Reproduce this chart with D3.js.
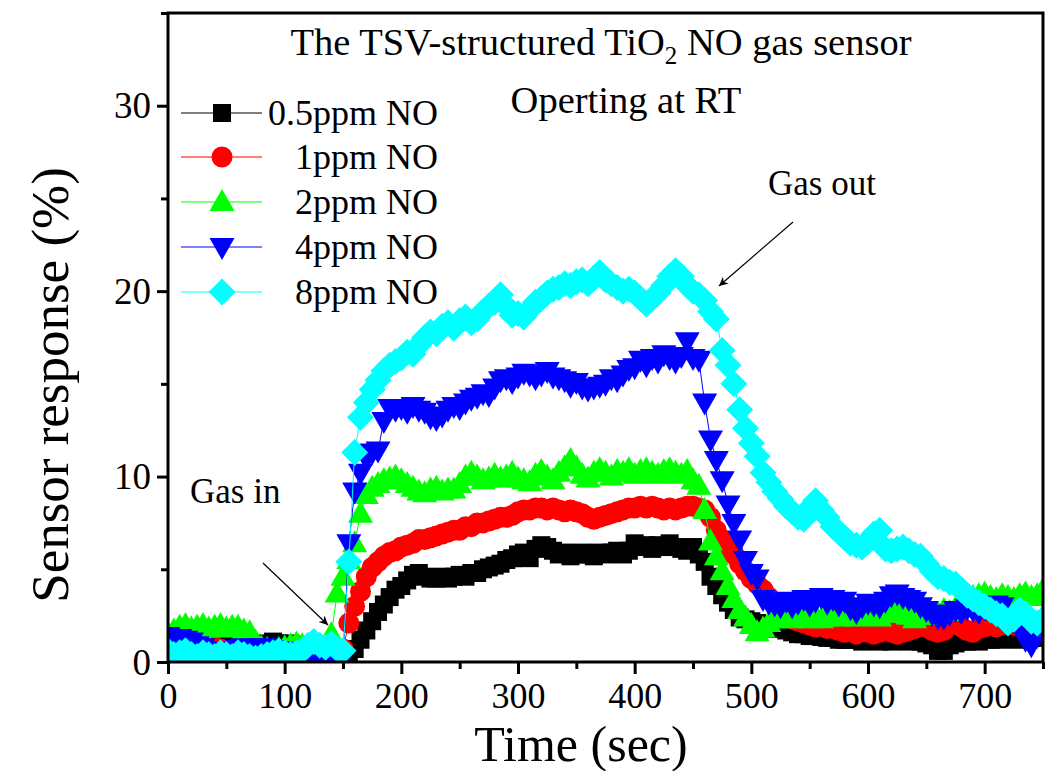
<!DOCTYPE html>
<html><head><meta charset="utf-8">
<script src="https://cdn.jsdelivr.net/npm/d3@7/dist/d3.min.js"></script>
<style>body{margin:0;background:#fff}svg{display:block}text{font-family:"Liberation Serif","Times New Roman",serif;fill:#000}</style>
</head><body><svg id="c" width="1052" height="771"></svg>
<script>
// sampling grid (sec)
const time = d3.range(0, 751, 5);
const seriesNames = ["0.5ppm NO", "1ppm NO", "2ppm NO", "4ppm NO", "8ppm NO"];
const seriesColors = ["#000000", "#ff0000", "#00ff00", "#0000ff", "#00ffff"];
const seriesSymbols = ["square", "circle", "triangle", "triangleDown", "diamond"];
const ppm05 = [
0.8,0.9,0.8,0.7,0.8,0.9,0.8,0.7,0.8,0.9,
0.8,0.9,1.0,0.9,0.8,0.7,0.8,1.0,1.1,1.0,
0.9,1.0,0.9,0.8,0.9,0.8,0.7,0.6,0.6,0.5,
0.3,0.4,0.7,1.2,1.7,2.2,2.7,3.1,3.5,3.9,
4.1,4.4,4.7,4.8,4.6,4.5,4.5,4.6,4.5,4.6,
4.7,4.6,4.8,4.8,5.0,5.1,5.2,5.3,5.5,5.6,
5.8,5.9,5.6,6.1,6.3,6.2,6.0,5.8,5.9,5.7,
5.8,5.9,5.8,5.7,5.9,5.8,5.9,6.0,5.8,6.0,
6.4,6.2,6.3,6.1,6.3,6.2,6.4,6.2,6.1,6.0,
6.2,5.8,5.4,4.6,4.1,3.6,3.2,2.8,2.4,2.3,
2.2,2.1,2.0,1.9,1.8,1.8,1.7,1.6,1.5,1.5,
1.4,1.4,1.35,1.3,1.3,1.2,1.2,1.2,1.2,1.1,
1.2,1.2,1.1,1.2,1.1,1.2,1.2,1.1,1.2,1.1,
1.0,0.9,0.6,0.6,0.9,1.0,1.1,1.1,1.2,1.1,
1.2,1.2,1.3,1.2,1.3,1.3,1.2,1.3,1.3,1.4,
1.3];
const ppm1 = [
0.6,0.5,0.6,0.7,0.6,0.5,0.6,0.7,0.8,0.7,
0.6,0.5,0.6,0.5,0.6,0.7,0.6,0.5,0.6,0.5,
0.6,0.7,0.6,0.5,0.6,0.5,0.4,0.5,0.6,0.5,
0.7,2.1,3.0,3.8,4.6,5.1,5.4,5.7,5.9,6.0,
6.2,6.3,6.4,6.6,6.6,6.7,6.8,6.9,7.0,7.1,
7.1,7.3,7.3,7.5,7.5,7.6,7.7,7.8,7.8,7.9,
8.1,8.2,8.2,8.3,8.3,8.2,8.3,8.2,8.1,8.2,
8.1,8.0,7.8,7.7,7.8,7.9,8.0,8.1,8.2,8.3,
8.3,8.4,8.3,8.4,8.3,8.2,8.3,8.2,8.3,8.4,
8.4,8.3,8.2,7.8,7.1,6.6,6.2,5.8,5.3,4.9,
4.5,4.2,3.9,3.5,3.1,2.8,2.5,2.3,2.2,2.1,
2.0,1.9,2.0,1.8,1.8,1.7,1.6,1.7,1.5,1.7,
1.6,1.5,1.6,1.7,1.6,1.5,1.6,1.7,1.8,2.0,
1.9,1.7,1.6,1.7,2.0,2.1,1.9,1.7,1.6,1.8,
1.9,2.0,1.9,2.0,2.1,2.0,2.1,2.0,2.2,2.1,
2.0];
const ppm2 = [
1.5,1.7,1.9,2.0,1.8,1.9,2.0,1.8,1.9,2.0,
1.8,1.9,1.9,1.7,1.6,1.1,0.8,0.7,0.6,0.7,
0.8,0.9,1.0,0.9,0.8,0.7,0.8,0.9,1.5,3.7,
4.6,5.5,6.4,8.0,9.0,9.4,9.6,9.8,9.9,10.0,
9.8,9.6,9.4,9.2,9.1,9.3,9.4,9.2,9.3,9.3,
9.6,10.0,10.2,10.0,9.8,9.9,10.1,9.9,10.0,10.2,
9.9,9.8,9.7,10.1,10.3,10.0,9.8,10.2,10.5,10.9,
10.5,10.1,9.9,10.2,10.4,10.2,10.0,10.3,10.2,10.4,
10.1,10.3,10.4,10.2,10.1,10.3,10.4,10.2,10.1,10.3,
9.8,9.5,8.2,6.5,5.7,4.9,4.1,3.4,2.8,2.4,
2.0,1.6,1.8,2.1,2.3,2.5,2.4,2.3,2.5,2.4,
2.3,2.5,2.3,2.4,2.6,2.4,2.5,2.6,2.4,2.5,
2.6,2.5,2.4,2.7,2.8,2.6,2.8,2.5,2.3,2.5,
2.7,2.5,2.6,2.8,2.7,2.9,3.1,3.3,3.5,3.6,
3.7,3.5,3.4,3.6,3.5,3.4,3.6,3.7,3.5,3.6,
3.9];
const ppm4 = [
1.4,1.3,1.3,1.2,1.1,0.9,0.8,0.6,0.5,0.6,
0.5,0.6,0.7,0.8,0.7,0.8,0.7,0.8,0.7,0.6,
0.5,0.6,0.5,0.4,0.3,0.2,0.2,0.1,0.2,0.1,
0.2,6.4,9.2,10.2,11.0,11.3,11.4,13.0,13.7,13.6,
13.7,13.5,13.8,13.6,13.5,13.2,13.1,13.3,13.6,13.8,
13.7,14.0,14.2,14.3,14.5,14.4,14.8,15.2,15.3,15.1,
15.4,15.6,15.5,15.3,15.5,15.7,15.4,15.3,15.2,14.9,
15.1,14.8,14.7,14.8,14.9,15.0,15.3,15.2,15.5,15.8,
15.9,16.3,16.0,16.4,16.2,16.6,16.4,16.2,16.5,17.3,
16.4,16.3,14.0,12.0,10.9,9.8,8.5,7.5,6.6,5.5,
4.8,4.5,3.4,3.2,3.1,3.0,3.3,3.0,3.2,3.4,
3.1,3.3,3.5,3.2,3.4,3.1,3.3,2.9,2.7,3.0,
3.2,3.1,3.0,3.3,3.6,3.7,3.5,3.4,3.3,3.0,
2.8,2.6,2.4,2.4,2.6,2.8,2.7,2.9,2.8,2.7,
2.9,3.0,3.1,3.0,2.5,2.2,1.8,1.2,0.9,1.4,
1.8];
const ppm8 = [
0.6,0.4,0.5,0.6,0.4,0.3,0.5,0.4,0.3,0.5,
0.4,0.3,0.5,0.4,0.3,0.2,0.3,0.4,0.5,0.6,
0.5,0.4,0.5,0.6,0.9,1.1,0.9,0.8,1.0,0.7,
0.6,5.4,11.3,13.2,14.0,14.7,15.2,15.7,16.0,16.2,
16.4,16.7,16.6,17.1,17.5,17.8,17.7,18.1,18.3,18.0,
18.4,18.6,18.3,18.5,18.9,19.2,19.4,19.8,19.2,18.7,
18.8,18.6,19.0,19.4,19.6,19.9,20.1,20.2,20.4,20.3,
20.5,20.6,20.4,20.7,21.0,20.6,20.4,20.2,20.0,20.1,
19.9,19.6,19.3,19.6,19.9,20.3,20.8,21.1,20.8,20.3,
20.0,19.8,19.5,18.9,18.5,16.8,16.0,15.0,13.6,12.6,
11.8,11.1,10.2,9.7,9.2,8.8,8.4,8.1,7.8,7.7,
8.3,8.7,8.2,7.8,7.3,7.0,6.7,6.4,6.3,6.2,
6.5,6.9,7.1,6.1,6.0,6.1,6.2,6.0,5.8,5.7,
5.3,4.9,4.6,4.5,4.3,4.2,3.9,3.6,3.4,3.2,
3.0,2.8,2.6,2.5,2.1,2.3,2.8,2.6,2.2,2.1,
2.3];
const seriesValues = [ppm05, ppm1, ppm2, ppm4, ppm8];
const xMajorTicks = [0,100,200,300,400,500,600,700];
const xMinorTicks = [50,150,250,350,450,550,650,750];
const yMajorTicks = [0,10,20,30];
const yMinorTicks = [5,15,25,35];
const titleLine1 = "The TSV-structured TiO";
const titleSub = "2";
const titleLine1b = " NO gas sensor";
const titleLine2 = "Operting at RT";

const svg = d3.select("#c");
const L = 168, R = 1043, T = 13, B = 662;
const x = d3.scaleLinear().domain([0, 750]).range([L, R]);
const y = d3.scaleLinear().domain([0, 35]).range([B, T]);

function symPath(kind, cx, cy) {
  if (kind === "square") { const s = 9; return `M${cx-s},${cy-s}h${2*s}v${2*s}h${-2*s}Z`; }
  if (kind === "circle") { const r = 10.5; return `M${cx-r},${cy}a${r},${r} 0 1,0 ${2*r},0a${r},${r} 0 1,0 ${-2*r},0Z`; }
  if (kind === "triangle") { return `M${cx},${cy-13}L${cx+12.5},${cy+9}L${cx-12.5},${cy+9}Z`; }
  if (kind === "triangleDown") { return `M${cx},${cy+13}L${cx+12.5},${cy-9}L${cx-12.5},${cy-9}Z`; }
  if (kind === "diamond") { const h = 13.5; return `M${cx},${cy-h}L${cx+h},${cy}L${cx},${cy+h}L${cx-h},${cy}Z`; }
}

svg.append("clipPath").attr("id", "clip").append("rect")
  .attr("x", L).attr("y", T).attr("width", R - L).attr("height", B - T);

const plot = svg.append("g").attr("clip-path", "url(#clip)");
const line = d3.line().x((d, i) => x(time[i])).y(d => y(d));
seriesValues.forEach((vals, k) => {
  const g = plot.append("g");
  g.append("path").attr("d", line(vals)).attr("fill", "none")
    .attr("stroke", seriesColors[k]).attr("stroke-width", 1);
  g.selectAll("path.m").data(vals).join("path").attr("class", "m")
    .attr("d", (d, i) => symPath(seriesSymbols[k], x(time[i]), y(d)))
    .attr("fill", seriesColors[k]);
});

// axes
const axB = svg.append("g").attr("transform", `translate(0,${B})`);
axB.call(d3.axisBottom(x).tickValues(xMajorTicks).tickSize(12).tickFormat(d3.format("d")));
const axBm = svg.append("g").attr("transform", `translate(0,${B})`);
axBm.call(d3.axisBottom(x).tickValues(xMinorTicks).tickSize(7).tickFormat(""));
const axL = svg.append("g").attr("transform", `translate(${L},0)`);
axL.call(d3.axisLeft(y).tickValues(yMajorTicks).tickSize(11).tickFormat(d3.format("d")));
const axLm = svg.append("g").attr("transform", `translate(${L},0)`);
axLm.call(d3.axisLeft(y).tickValues(yMinorTicks).tickSize(7).tickFormat(""));
[axB, axBm, axL, axLm].forEach(a => {
  a.select(".domain").remove();
  a.selectAll("line").attr("stroke", "#000").attr("stroke-width", 3);
});
axB.selectAll("text").attr("font-size", 36).attr("font-family", "Liberation Serif")
  .attr("y", 20).attr("dy", "0.71em");
axL.selectAll("text").attr("font-size", 37).attr("font-family", "Liberation Serif")
  .attr("x", -17).attr("dy", "0.33em");

svg.append("rect").attr("x", L).attr("y", T).attr("width", R - L).attr("height", B - T)
  .attr("fill", "none").attr("stroke", "#000").attr("stroke-width", 3);

// axis titles
svg.append("text").attr("x", 581).attr("y", 761).attr("text-anchor", "middle")
  .attr("font-size", 50).text("Time (sec)");
svg.append("text").attr("transform", "translate(68,385) rotate(-90)").attr("text-anchor", "middle")
  .attr("font-size", 53).text("Sensor response (%)");

// title
const t1 = svg.append("text").attr("x", 601).attr("y", 55).attr("text-anchor", "middle").attr("font-size", 38.5);
t1.append("tspan").text(titleLine1);
t1.append("tspan").attr("font-size", 25).attr("dy", 9).text(titleSub);
t1.append("tspan").attr("dy", -9).text(titleLine1b);
svg.append("text").attr("x", 626).attr("y", 113).attr("text-anchor", "middle").attr("font-size", 38.5).text(titleLine2);

// legend
const legY = [113, 157, 202, 247, 292];
seriesNames.forEach((n, k) => {
  const g = svg.append("g");
  g.append("line").attr("x1", 181).attr("x2", 262).attr("y1", legY[k]).attr("y2", legY[k])
    .attr("stroke", seriesColors[k]).attr("stroke-width", 1.2);
  g.append("path").attr("d", symPath(seriesSymbols[k], 222, legY[k])).attr("fill", seriesColors[k]);
  g.append("text").attr("x", 438).attr("y", legY[k] + 12).attr("text-anchor", "end")
    .attr("font-size", 36).text(n);
});

// annotations
const defs = svg.append("defs");
defs.append("marker").attr("id", "ah").attr("viewBox", "0 0 10 10").attr("refX", 10).attr("refY", 5)
  .attr("markerWidth", 14).attr("markerHeight", 9).attr("markerUnits", "userSpaceOnUse").attr("orient", "auto")
  .append("path").attr("d", "M0,0L10,5L0,10L3,5Z").attr("fill", "#000");
svg.append("text").attr("x", 190).attr("y", 503).attr("font-size", 35).text("Gas in");
svg.append("line").attr("x1", 263).attr("y1", 563).attr("x2", 328).attr("y2", 625)
  .attr("stroke", "#000").attr("stroke-width", 1.2).attr("marker-end", "url(#ah)");
svg.append("text").attr("x", 768).attr("y", 195).attr("font-size", 35).text("Gas out");
svg.append("line").attr("x1", 793).attr("y1", 222).attr("x2", 719).attr("y2", 286)
  .attr("stroke", "#000").attr("stroke-width", 1.2).attr("marker-end", "url(#ah)");
</script></body></html>
